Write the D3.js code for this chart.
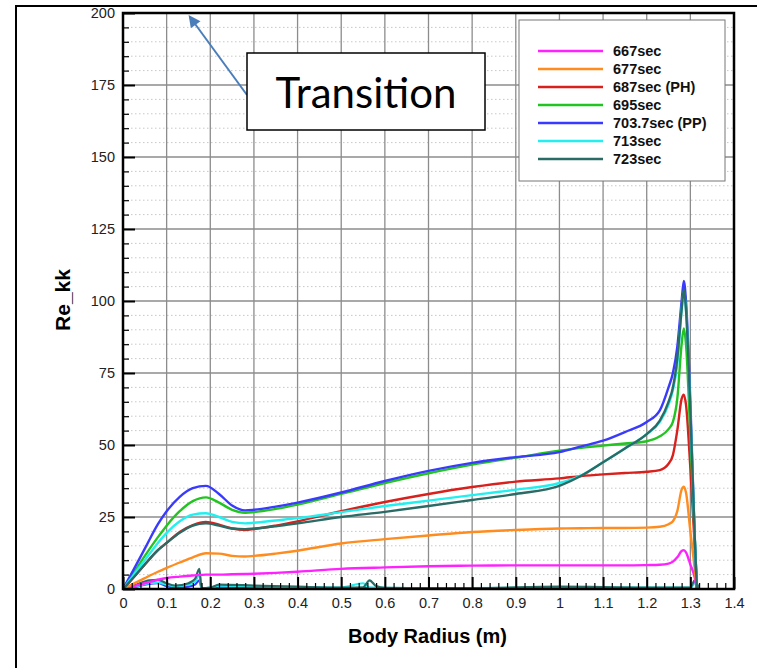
<!DOCTYPE html>
<html>
<head>
<meta charset="utf-8">
<script src="https://cdn.jsdelivr.net/npm/d3@7"></script>
<style>
  body { margin: 0; background: #fff; }
  svg { display: block; }
</style>
</head>
<body>
<svg id="chart" width="757" height="668"></svg>
<script>
// radius grid of the main branch (m)
const radius = [0, 0.02, 0.05, 0.08, 0.1, 0.13, 0.16, 0.19, 0.22, 0.25, 0.28, 0.3, 0.35, 0.4, 0.5, 0.6, 0.7, 0.8, 0.9, 1.0, 1.05, 1.1, 1.15, 1.2, 1.23, 1.25, 1.26, 1.27, 1.28, 1.285, 1.29, 1.3, 1.31, 1.315];

const re667 = [0, 0.8, 2, 3.2, 3.8, 4.3, 4.7, 5, 5, 5.1, 5.2, 5.3, 5.6, 6, 7, 7.5, 7.9, 8.1, 8.2, 8.2, 8.2, 8.2, 8.2, 8.3, 8.4, 8.8, 9.5, 11, 13.2, 13.5, 12.7, 8.5, 4, 0];
const re677 = [0, 1.5, 3.8, 6, 7.3, 9.2, 11, 12.4, 12.3, 11.5, 11.3, 11.5, 12.3, 13.3, 15.8, 17.3, 18.6, 19.8, 20.5, 21, 21.1, 21.2, 21.2, 21.3, 21.6, 22.5, 23.5, 27, 34.5, 35.5, 33.5, 20, 7, 0];
const re687 = [0, 3.3, 8.5, 13.5, 16, 19.8, 22.2, 23.3, 22.3, 21, 20.5, 20.8, 22, 23.5, 27, 30.2, 33, 35.4, 37.3, 38.4, 39.2, 39.8, 40.3, 40.7, 41.3, 43.5, 46.5, 55, 66, 67.5, 64, 42, 15, 0];
const re695 = [0, 4.5, 11.5, 18, 22, 27, 30.5, 31.8, 30, 27.5, 26.5, 26.7, 27.8, 29.3, 33, 36.8, 40.2, 43.2, 45.6, 48, 49, 49.8, 50.5, 51.3, 53, 55.5, 58, 66, 85, 90.5, 85, 53, 18, 0];
const re703 = [0, 5.5, 14, 22.5, 27, 32, 35, 35.8, 33, 29, 27.3, 27.5, 28.6, 30, 33.5, 37.5, 41, 43.8, 45.8, 47.5, 49.5, 51.5, 54.5, 58, 62, 70, 75, 84, 100, 107, 100, 65, 18, 0];
const re713 = [0, 4, 10, 16, 19.5, 23.5, 25.8, 26.3, 25, 23.3, 22.8, 23, 23.8, 24.6, 26.7, 28.8, 30.7, 32.6, 34.5, 36.8, 39.5, 44, 48.8, 53.8, 58, 64, 69, 78, 97, 103.5, 97, 62, 18, 0];
const re723 = [0, 3.3, 8.5, 13.5, 16, 19.5, 22, 22.8, 22, 21, 20.8, 21, 21.8, 22.8, 25, 26.8, 28.8, 30.9, 33, 35.8, 39.3, 44, 48.8, 53.8, 58.5, 65, 70, 80, 97, 104, 97, 62, 18, 0];

// low branch near the wall
const lowRadius = [0, 0.03, 0.06, 0.08, 0.1, 0.12, 0.15, 0.165, 0.175, 0.18, 0.2, 0.22, 0.3, 0.4, 0.5, 0.55, 0.565, 0.58, 0.6, 0.8, 1.0, 1.2, 1.3, 1.31, 1.32];
const low703 = [0, 0.8, 1.8, 2, 1, 0.5, 0.8, 1.5, 3, 0.2, 0.3, 0.8, 0.6, 0.4, 0.3, 0.3, 0.4, 0.3, 0.2, 0.2, 0.3, 0.3, 0.3, 2.5, 0];
const low713 = [0, 1, 2, 2.2, 1.5, 1, 1.5, 2.5, 5, 0.3, 0.5, 1.2, 1, 0.7, 0.5, 2, 0.5, 0.5, 0.4, 0.3, 0.5, 0.5, 0.5, 2, 0];
const low723 = [0, 1.5, 3, 3.2, 2, 1.2, 2, 3.5, 7, 0.3, 0.5, 1.5, 1.2, 0.8, 0.5, 0.6, 3, 1, 0.4, 0.3, 0.8, 0.5, 0.5, 3, 0];

const seriesNames = ["667sec", "677sec", "687sec (PH)", "695sec", "703.7sec (PP)", "713sec", "723sec"];
const seriesColors = ["#ff22ff", "#ff8c1e", "#d8201c", "#22c422", "#3a3aff", "#22f0f0", "#2b6b66"];
const seriesValues = [re667, re677, re687, re695, re703, re713, re723];

const xTicks = d3.range(0, 15).map(i => i / 10);
const yTicks = d3.range(0, 9).map(i => i * 25);

const svg = d3.select("#chart");
const width = 757;
const height = 668;
const margin = { top: 13, right: 23, bottom: 79, left: 123 };

const x = d3.scaleLinear().domain([0, 1.4]).range([margin.left, width - margin.right]);
const y = d3.scaleLinear().domain([0, 200]).range([height - margin.bottom, margin.top]);

// outer figure frame (only left and top edges fall inside the picture)
svg.append("path")
  .attr("d", `M16,${height}V6H${width}`)
  .attr("fill", "none")
  .attr("stroke", "#000")
  .attr("stroke-width", 2);

// grid
const grid = svg.append("g");
grid.selectAll(".minor")
  .data(d3.range(0, 201, 5).filter(v => v % 25 !== 0))
  .join("line")
  .attr("x1", x(0)).attr("x2", x(1.4))
  .attr("y1", d => y(d)).attr("y2", d => y(d))
  .attr("stroke", "#c8c8c8")
  .attr("stroke-dasharray", "1.5,2.5");
grid.selectAll(".hmajor")
  .data(yTicks.slice(1, -1))
  .join("line")
  .attr("x1", x(0)).attr("x2", x(1.4))
  .attr("y1", d => y(d)).attr("y2", d => y(d))
  .attr("stroke", "#8c8c8c")
  .attr("stroke-width", 1.3);
grid.selectAll(".vmajor")
  .data(xTicks.slice(1, -1))
  .join("line")
  .attr("y1", y(0)).attr("y2", y(200))
  .attr("x1", d => x(d)).attr("x2", d => x(d))
  .attr("stroke", "#8c8c8c")
  .attr("stroke-width", 1.3);

// curves
svg.append("clipPath").attr("id", "plot-clip")
  .append("rect")
  .attr("x", x(0)).attr("y", y(200))
  .attr("width", x(1.4) - x(0)).attr("height", y(0) - y(200));

const line = d3.line()
  .x(d => x(d[0]))
  .y(d => y(d[1]))
  .curve(d3.curveMonotoneX);

const curves = svg.append("g").attr("clip-path", "url(#plot-clip)");

const lowSeries = [[low703, seriesColors[4]], [low713, seriesColors[5]], [low723, seriesColors[6]]];
lowSeries.forEach(([vals, color]) => {
  curves.append("path")
    .datum(lowRadius.map((r, i) => [r, vals[i]]))
    .attr("fill", "none")
    .attr("stroke", color)
    .attr("stroke-width", 2.2)
    .attr("d", line);
});

seriesValues.forEach((vals, k) => {
  curves.append("path")
    .datum(radius.map((r, i) => [r, vals[i]]))
    .attr("fill", "none")
    .attr("stroke", seriesColors[k])
    .attr("stroke-width", 2.4)
    .attr("d", line);
});

// axes with inward ticks
const tickFont = "'Liberation Sans', Arial, sans-serif";

const xAxis = svg.append("g")
  .attr("transform", `translate(0,${y(0)})`)
  .call(d3.axisBottom(x).tickValues(xTicks).tickSize(-12).tickPadding(9)
    .tickFormat(d => d === 0 ? "0" : (d === 1 ? "1" : d3.format(".1f")(d))));
xAxis.select(".domain").remove();
xAxis.selectAll(".tick line").attr("stroke", "#000").attr("stroke-width", 2);
xAxis.selectAll("text").attr("font-family", tickFont).attr("font-size", 14.5).attr("fill", "#222");

const xMinor = svg.append("g")
  .attr("transform", `translate(0,${y(0)})`)
  .call(d3.axisBottom(x).tickValues(d3.range(0, 71).map(i => i / 50).filter((v, i) => i % 5 !== 0)).tickSize(-6).tickFormat(""));
xMinor.select(".domain").remove();
xMinor.selectAll(".tick line").attr("stroke", "#000").attr("stroke-width", 1.2);

const yAxis = svg.append("g")
  .attr("transform", `translate(${x(0)},0)`)
  .call(d3.axisLeft(y).tickValues(yTicks).tickSize(-12).tickPadding(8));
yAxis.select(".domain").remove();
yAxis.selectAll(".tick line").attr("stroke", "#000").attr("stroke-width", 2);
yAxis.selectAll("text").attr("font-family", tickFont).attr("font-size", 14.5).attr("fill", "#222");

const yMinor = svg.append("g")
  .attr("transform", `translate(${x(0)},0)`)
  .call(d3.axisLeft(y).tickValues(d3.range(0, 201, 5).filter(v => v % 25 !== 0)).tickSize(-6).tickFormat(""));
yMinor.select(".domain").remove();
yMinor.selectAll(".tick line").attr("stroke", "#000").attr("stroke-width", 1.2);

// plot frame
svg.append("rect")
  .attr("x", x(0)).attr("y", y(200))
  .attr("width", x(1.4) - x(0)).attr("height", y(0) - y(200))
  .attr("fill", "none")
  .attr("stroke", "#000")
  .attr("stroke-width", 2.5);

// axis titles
svg.append("text")
  .attr("x", (x(0) + x(1.4)) / 2 - 1)
  .attr("y", 643)
  .attr("text-anchor", "middle")
  .attr("font-family", tickFont)
  .attr("font-weight", "bold")
  .attr("font-size", 20)
  .text("Body Radius (m)");

svg.append("text")
  .attr("transform", "translate(70,300) rotate(-90)")
  .attr("text-anchor", "middle")
  .attr("font-family", tickFont)
  .attr("font-weight", "bold")
  .attr("font-size", 21)
  .text("Re_kk");

// legend
const legend = svg.append("g");
legend.append("rect")
  .attr("x", 519).attr("y", 20)
  .attr("width", 206).attr("height", 161)
  .attr("fill", "#fff")
  .attr("stroke", "#777")
  .attr("stroke-width", 1);

const rows = legend.selectAll(".row")
  .data(seriesNames)
  .join("g")
  .attr("transform", (d, i) => `translate(0,${51 + i * 18})`);
rows.append("line")
  .attr("x1", 538).attr("x2", 603)
  .attr("stroke", (d, i) => seriesColors[i])
  .attr("stroke-width", 2.4);
rows.append("text")
  .attr("x", 613)
  .attr("dy", "0.36em")
  .attr("font-family", tickFont)
  .attr("font-weight", "bold")
  .attr("font-size", 14.5)
  .attr("fill", "#111")
  .text(d => d);

// annotation
const arrowColor = "#4a7ebb";
svg.append("defs").append("marker")
  .attr("id", "arrowhead")
  .attr("viewBox", "0 0 10 10")
  .attr("refX", 8).attr("refY", 5)
  .attr("markerUnits", "userSpaceOnUse")
  .attr("markerWidth", 14).attr("markerHeight", 12)
  .attr("orient", "auto")
  .append("path")
  .attr("d", "M0,0L10,5L0,10z")
  .attr("fill", arrowColor);

svg.append("line")
  .attr("x1", 247).attr("y1", 95)
  .attr("x2", 190).attr("y2", 17)
  .attr("stroke", arrowColor)
  .attr("stroke-width", 2)
  .attr("marker-end", "url(#arrowhead)");

svg.append("rect")
  .attr("x", 247).attr("y", 53)
  .attr("width", 238).attr("height", 77)
  .attr("fill", "#fff")
  .attr("stroke", "#000")
  .attr("stroke-width", 1.5);

svg.append("text")
  .attr("x", 366).attr("y", 108)
  .attr("text-anchor", "middle")
  .attr("font-family", "Lato, 'Open Sans', sans-serif")
  .attr("font-size", 42)
  .attr("fill", "#000")
  .text("Transition");
</script>
</body>
</html>
